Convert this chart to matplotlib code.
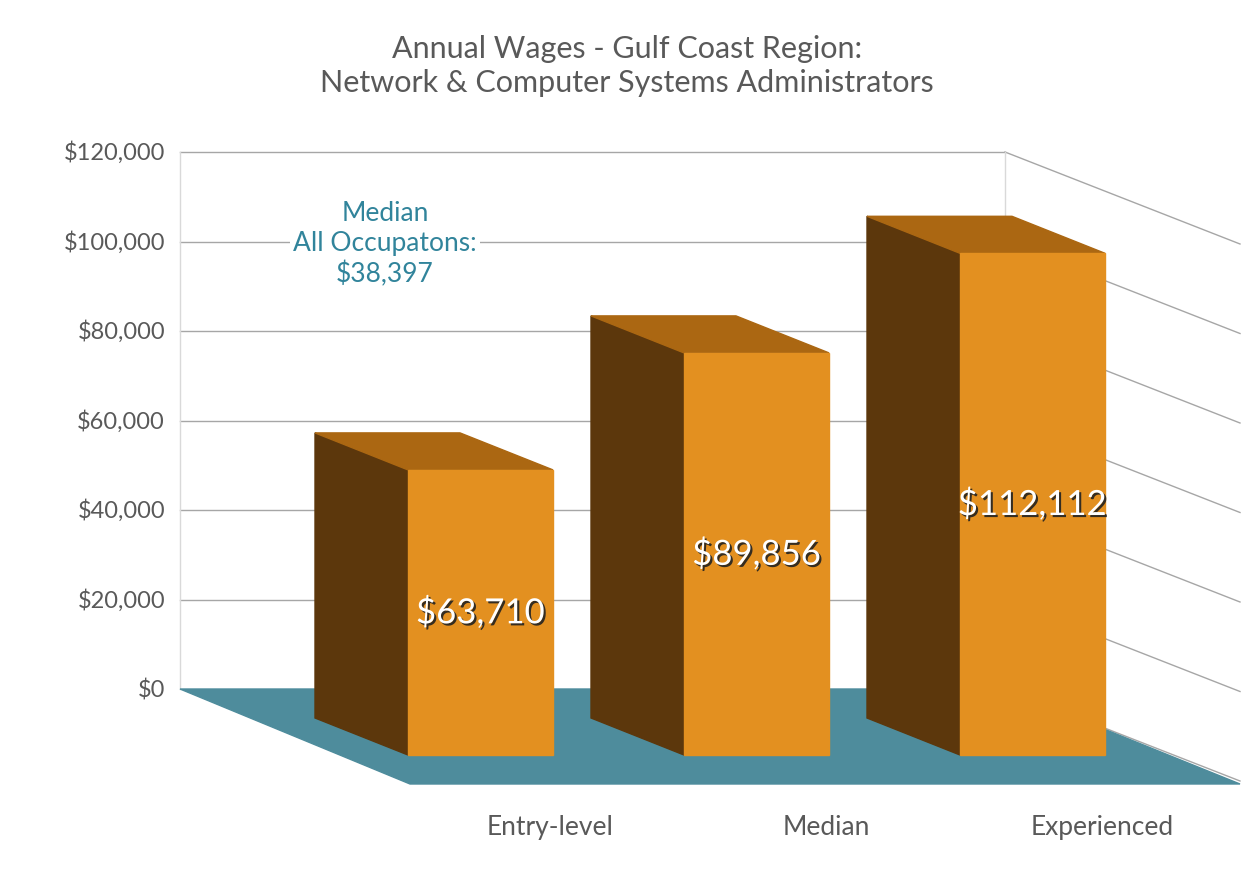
import matplotlib
matplotlib.use("Agg")
import matplotlib.pyplot as plt
import matplotlib.patheffects as pe
from matplotlib.patches import Polygon

categories = ["Entry-level", "Median", "Experienced"]
wages = [63710, 89856, 112112]
tick_values = [0, 20000, 40000, 60000, 80000, 100000, 120000]
tick_labels = ["$0", "$20,000", "$40,000", "$60,000", "$80,000", "$100,000", "$120,000"]
all_occ_median = 38397

FONT = "Lato"
GRAY = "#595959"
TEAL = "#31849B"

# pseudo-3D layout in pixel space
PX_PER_DOLLAR = 537 / 120000
WALL_BASE = 690          # y of $0 on back wall
WALL_X0, WALL_X1 = 180, 1005
DEPTH_DX, DEPTH_DY = 235, 92   # right side wall depth
BAR_BASE = 756           # front bottom of bars
BAR_W = 145
BAR_DX, BAR_DY = -93, -37      # back offset of bars
FIRST_X, STEP = 408, 276


def h(v):
    return v * PX_PER_DOLLAR


fig = plt.figure(figsize=(12.55, 8.95), dpi=100)
ax = fig.add_axes([0, 0, 1, 1])
ax.set_xlim(0, 1255)
ax.set_ylim(895, 0)
ax.axis("off")

# floor
ax.add_patch(Polygon([(WALL_X0, WALL_BASE), (WALL_X1, WALL_BASE),
                      (WALL_X1 + DEPTH_DX, WALL_BASE + DEPTH_DY + 3),
                      (410, WALL_BASE + DEPTH_DY + 3)],
                     closed=True, color="#4E8C9C", zorder=1))

# gridlines on back and side walls
for v, lab in zip(tick_values, tick_labels):
    y = WALL_BASE - h(v)
    if v > 0:
        ax.plot([WALL_X0, WALL_X1], [y, y], color="#a6a6a6", lw=1, zorder=0)
    ax.plot([WALL_X1, WALL_X1 + DEPTH_DX], [y, y + DEPTH_DY], color="#a6a6a6", lw=1, zorder=0)
    ax.text(165, y, lab, ha="right", va="center", fontsize=17, color=GRAY, family=FONT)
ax.plot([WALL_X0, WALL_X0], [WALL_BASE - h(120000), WALL_BASE], color="#d9d9d9", lw=1, zorder=0)
ax.plot([WALL_X1, WALL_X1], [WALL_BASE - h(120000), WALL_BASE], color="#d9d9d9", lw=1, zorder=0)

# bars
for i, (cat, v) in enumerate(zip(categories, wages)):
    x0 = FIRST_X + i * STEP
    x1 = x0 + BAR_W
    top = BAR_BASE - h(v)
    side = [(x0 + BAR_DX, top + BAR_DY), (x0, top), (x0, BAR_BASE), (x0 + BAR_DX, BAR_BASE + BAR_DY)]
    lid = [(x0 + BAR_DX, top + BAR_DY), (x1 + BAR_DX, top + BAR_DY), (x1, top), (x0, top)]
    front = [(x0, top), (x1, top), (x1, BAR_BASE), (x0, BAR_BASE)]
    ax.add_patch(Polygon(side, closed=True, color="#5C370C", zorder=3))
    ax.add_patch(Polygon(lid, closed=True, color="#AB6712", zorder=3))
    ax.add_patch(Polygon(front, closed=True, color="#E39020", zorder=3))
    ax.text((x0 + x1) / 2, BAR_BASE - h(v) / 2, f"${v:,}", ha="center", va="center",
            fontsize=25, color="white", family=FONT, zorder=5,
            path_effects=[pe.withSimplePatchShadow(offset=(1.5, -1.5), shadow_rgbFace="#222222", alpha=0.9)])
    ax.text((x0 + x1) / 2 + 70, 828, cat, ha="center", va="center",
            fontsize=19, color=GRAY, family=FONT)

ax.text(385, 244, f"Median\nAll Occupatons:\n${all_occ_median:,}", ha="center", va="center",
        fontsize=19, color=TEAL, family=FONT, linespacing=1.25, zorder=4,
        bbox=dict(facecolor="white", edgecolor="none", pad=2))

ax.text(627, 66, "Annual Wages - Gulf Coast Region:\nNetwork & Computer Systems Administrators",
        ha="center", va="center", fontsize=22, color=GRAY, family=FONT, linespacing=1.3)

fig.savefig("out.png", dpi=100)
